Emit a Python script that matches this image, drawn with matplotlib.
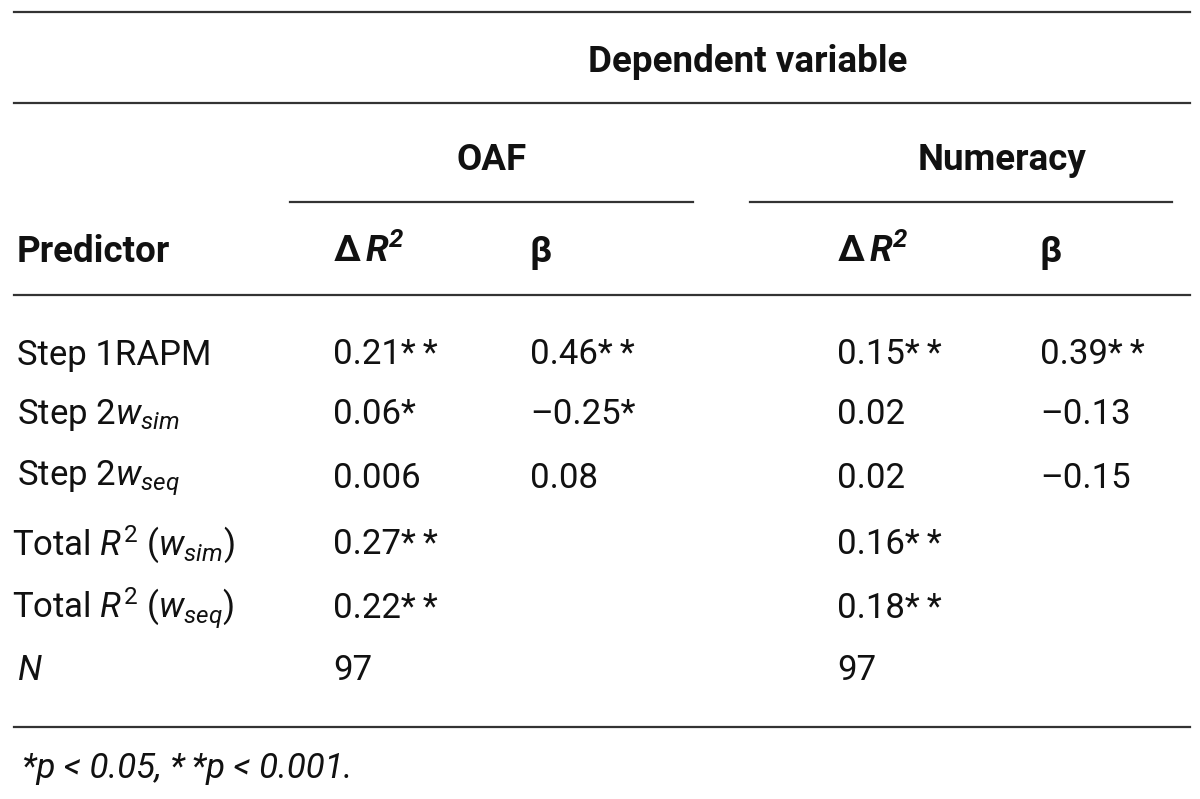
import matplotlib.pyplot as plt

# table contents
dd = '*\u2009*'
predictors = [r'Step 1RAPM', r'Step 2$w_{sim}$', r'Step 2$w_{seq}$',
              r'Total $R^2$ ($w_{sim}$)', r'Total $R^2$ ($w_{seq}$)', r'$N$']
oaf_dr2 = ['0.21' + dd, '0.06*', '0.006', '0.27' + dd, '0.22' + dd, '97']
oaf_beta = ['0.46' + dd, '\u20130.25*', '0.08', '', '', '']
num_dr2 = ['0.15' + dd, '0.02', '0.02', '0.16' + dd, '0.18' + dd, '97']
num_beta = ['0.39' + dd, '\u20130.13', '\u20130.15', '', '', '']
groups = ['OAF', 'Numeracy']
sub_headers = [r'$\mathbf{\Delta}\,\mathbfit{R}^{\mathbfit{2}}$', '\u03b2']
footnote = '*p < 0.05, ' + dd + 'p < 0.001.'

plt.rcParams['font.family'] = ['Roboto', 'DejaVu Sans']
plt.rcParams['mathtext.fontset'] = 'custom'
plt.rcParams['mathtext.rm'] = 'Roboto'
plt.rcParams['mathtext.it'] = 'Roboto:italic'
plt.rcParams['mathtext.bf'] = 'Roboto:bold'
plt.rcParams['mathtext.bfit'] = 'Roboto:italic:bold'

fig = plt.figure(figsize=(12, 7.99), dpi=100)
ax = fig.add_axes([0, 0, 1, 1])
ax.set_xlim(0, 1200)
ax.set_ylim(799, 0)
ax.axis('off')

fs = 25
fs_b = 26.5
ink = '#111111'

# rules
for y in [12, 103, 295, 727]:
    ax.plot([14, 1190], [y, y], color='#333333', lw=1.6)
ax.plot([290, 693], [202, 202], color='#333333', lw=1.6)
ax.plot([750, 1172], [202, 202], color='#333333', lw=1.6)

ax.text(748, 62, 'Dependent variable', ha='center', va='center',
        fontsize=fs_b, fontweight='bold', color=ink)
for gx, g in zip([492, 1002], groups):
    ax.text(gx, 160, g, ha='center', va='center', fontsize=fs_b,
            fontweight='bold', color=ink)

ax.text(17, 252, 'Predictor', ha='left', va='center', fontsize=fs_b,
        fontweight='bold', color=ink)
col_x = [333, 530, 837, 1040]
for i, cx in enumerate(col_x):
    ax.text(cx, 252, sub_headers[i % 2], ha='left', va='center',
            fontsize=fs_b, fontweight='bold', color=ink)

row_y = [355, 415, 478, 545, 608, 670]
for i, y in enumerate(row_y):
    px = 12 if predictors[i].startswith('Total') else 17
    ax.text(px, y, predictors[i], ha='left', va='center', fontsize=fs,
            color=ink)
    for cx, col in zip(col_x, [oaf_dr2, oaf_beta, num_dr2, num_beta]):
        if col[i]:
            ax.text(cx, y, col[i], ha='left', va='center', fontsize=fs,
                    color=ink)

ax.text(22, 768, footnote, ha='left', va='center', fontsize=fs,
        fontstyle='italic', color=ink)

fig.savefig('out.png', dpi=100, facecolor='white')
